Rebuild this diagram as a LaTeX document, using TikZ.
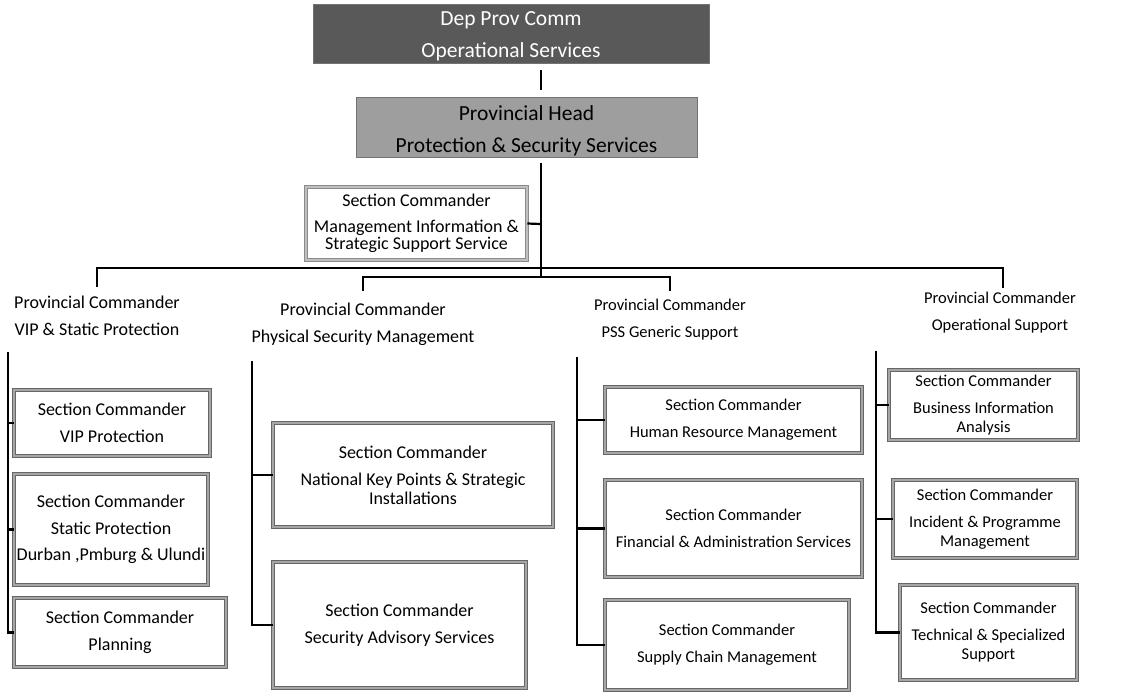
\documentclass[tikz,border=0pt]{standalone}
\usepackage{fontspec}
\setmainfont{Carlito}
\usetikzlibrary{calc}
\begin{document}
\begin{tikzpicture}[x=1pt,y=-1pt,
  conn/.style={line width=2.2pt,black},
  sbox/.style={draw=black!60,double=black!35,double distance=2.6pt,line width=0.7pt,
    fill=white,align=center,inner sep=0pt},
  big/.style={font=\fontsize{18}{20}\selectfont},
  small/.style={font=\fontsize{16.5}{19}\selectfont},
  plabel/.style={align=center},
  headbox/.style={draw=black!55,line width=0.6pt,inner sep=0pt},
  headtext/.style={align=center,font=\fontsize{21.5}{25}\selectfont}]
\useasboundingbox (0,0) rectangle (1129,697);
% head boxes
\node[headbox,fill=black!65,minimum width=396,minimum height=59,
  label={[headtext,text=white,yshift=-2.5pt]center:Dep Prov Comm\\[7pt]Operational Services}] (top) at (511,33.5) {};
\node[headbox,fill=black!38,minimum width=341,minimum height=60,
  label={[headtext,yshift=-3.5pt]center:Provincial Head\\[7pt]Protection \& Security Services}] (ph) at (526.5,127) {};
\node[sbox,big,draw=black!45,double=black!25,minimum width=221,minimum height=73] (mi) at (416.5,223.5)
  {Section Commander\\[6pt]Management Information \&\\[-3pt]Strategic Support Service};
% hub coordinates
\coordinate (h1) at (541,268);
\coordinate (h2) at (541,277);
\coordinate (hm) at (541,224);
\coordinate (dL) at (97,287);
\coordinate (dR) at (1003,288);
\coordinate (d2) at (363,291);
\coordinate (d3) at (670,291);
\draw[conn] ($(top.south -| h1)+(0,7)$) -- ($(ph.north -| h1)+(0,-7)$);
\draw[conn] ($(ph.south -| h1)+(0,6)$) -- (h2);
\draw[conn] (mi.east) -- (hm);
\draw[conn] (dL) |- (h1) -| (dR);
\draw[conn] (d2) |- (h2) -| (d3);
% provincial commanders
\node[plabel,big] (pc1) at (97,316) {Provincial Commander\\[7pt]VIP \& Static Protection};
\node[plabel,big] (pc2) at (363,324) {Provincial Commander\\[7pt]Physical Security Management};
\node[plabel,small] (pc3) at (670,320) {Provincial Commander\\[8pt]PSS Generic Support};
\node[plabel,small] (pc4) at (1000,313) {Provincial Commander\\[8pt]Operational Support};
% column 1
\coordinate (c1) at (8,352);
\node[sbox,big,minimum width=196,minimum height=66] (vip) at (112,423) {Section Commander\\[7pt]VIP Protection};
\node[sbox,big,minimum width=194,minimum height=111] (stat) at (111,529.5) {Section Commander\\[7pt]Static Protection\\[6pt]Durban ,Pmburg \& Ulundi};
\node[sbox,big,minimum width=212,minimum height=69] (plan) at (120,632.5) {Section Commander\\[7pt]Planning};
\draw[conn] (c1) |- (vip.west);
\draw[conn] (c1) |- (stat.west);
\draw[conn] (c1) |- (plan.west);
% column 2
\coordinate (c2) at (252,361);
\node[sbox,big,minimum width=280,minimum height=104] (nkp) at (413,475) {Section Commander\\[7pt]National Key Points \& Strategic\\[-1pt]Installations};
\node[sbox,big,minimum width=253,minimum height=126] (sas) at (399.5,625) {Section Commander\\[7pt]Security Advisory Services};
\draw[conn] (c2) |- (nkp.west);
\draw[conn] (c2) |- (sas.west);
% column 3
\coordinate (c3) at (577,357);
\node[sbox,small,minimum width=257,minimum height=66] (hrm) at (733.5,420) {Section Commander\\[8pt]Human Resource Management};
\node[sbox,small,minimum width=257,minimum height=97] (fin) at (733.5,528.5) {Section Commander\\[8pt]Financial \& Administration Services};
\node[sbox,small,minimum width=244,minimum height=90] (scm) at (727,645) {Section Commander\\[8pt]Supply Chain Management};
\draw[conn] (c3) |- (hrm.west);
\draw[conn] (c3) |- (fin.west);
\draw[conn] (c3) |- (scm.west);
% column 4
\coordinate (c4) at (876,351);
\node[sbox,small,minimum width=189,minimum height=70] (bia) at (983.5,405) {Section Commander\\[8pt]Business Information\\Analysis};
\node[sbox,small,minimum width=184,minimum height=78] (ipm) at (985,519) {Section Commander\\[8pt]Incident \& Programme\\Management};
\node[sbox,small,minimum width=177,minimum height=95] (tss) at (988.5,632.5) {Section Commander\\[8pt]Technical \& Specialized\\Support};
\draw[conn] (c4) |- (bia.west);
\draw[conn] (c4) |- (ipm.west);
\draw[conn] (c4) |- (tss.west);
\end{tikzpicture}
\end{document}
